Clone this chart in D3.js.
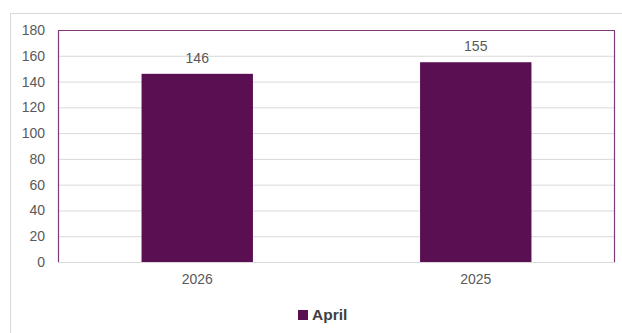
<!DOCTYPE html>
<html>
<head>
<meta charset="utf-8">
<script src="https://cdn.jsdelivr.net/npm/d3@7"></script>
<style>
  body { margin: 0; background: #fff; }
  text { font-family: "Liberation Sans", Arial, sans-serif; }
</style>
</head>
<body>
<div id="chart-area"></div>
<script>
const years = ['2026', '2025'];
const aprilValues = [146, 155];
const yTicks = [0, 20, 40, 60, 80, 100, 120, 140, 160, 180];
const seriesName = 'April';

const chartSize = { width: 622, height: 333 };
const margin = { left: 58, right: 7, top: 30, bottom: 71 };
const width = chartSize.width - margin.left - margin.right;
const height = chartSize.height - margin.top - margin.bottom;
const barColor = '#5a0f53';

const svg = d3.select('#chart-area').append('svg')
  .attr('width', chartSize.width)
  .attr('height', chartSize.height);

// outer chart frame
svg.append('rect')
  .attr('x', 10.5).attr('y', 13.5)
  .attr('width', 620).attr('height', 330)
  .attr('fill', 'none')
  .attr('stroke', '#d9d9d9');

const g = svg.append('g')
  .attr('transform', `translate(${margin.left},${margin.top})`);

const y = d3.scaleLinear().domain([0, 180]).range([height, 0]);
const x = d3.scaleBand().domain(years).range([0, width])
  .paddingInner(0.6).paddingOuter(0.3);

const yAxis = d3.axisLeft(y).tickValues(yTicks).tickSize(-width).tickPadding(13);
g.append('g').attr('class', 'y axis').call(yAxis)
  .call(s => s.select('.domain').remove())
  .call(s => s.selectAll('.tick line').attr('stroke', '#d9d9d9'))
  .call(s => s.selectAll('.tick text').attr('fill', '#595959').attr('font-size', 14));

const xAxis = d3.axisBottom(x).tickSize(0).tickPadding(12);
g.append('g').attr('class', 'x axis')
  .attr('transform', `translate(0,${height})`)
  .call(xAxis)
  .call(s => s.select('.domain').remove())
  .call(s => s.selectAll('.tick text').attr('fill', '#595959').attr('font-size', 14));

// plot area border
g.append('path')
  .attr('d', `M0.5,${height}V0.5H${width - 0.5}V${height}`)
  .attr('fill', 'none')
  .attr('stroke', '#7d3a76')
  .attr('stroke-width', 1.2);

const data = years.map((yr, i) => ({ yr, v: aprilValues[i] }));

g.selectAll('rect.bar').data(data).enter()
  .append('rect')
  .attr('class', 'bar')
  .attr('x', d => x(d.yr))
  .attr('y', d => y(d.v))
  .attr('width', x.bandwidth())
  .attr('height', d => y(0) - y(d.v))
  .attr('fill', barColor);

g.selectAll('text.label').data(data).enter()
  .append('text')
  .attr('class', 'label')
  .attr('x', d => x(d.yr) + x.bandwidth() / 2)
  .attr('y', d => y(d.v) - 11)
  .attr('text-anchor', 'middle')
  .attr('fill', '#595959')
  .attr('font-size', 14)
  .text(d => d.v);

// legend
const legend = svg.append('g').attr('transform', 'translate(298,310)');
legend.append('rect').attr('width', 10).attr('height', 10).attr('fill', barColor);
legend.append('text')
  .attr('x', 14).attr('y', 10)
  .attr('font-size', 15.5).attr('font-weight', 'bold')
  .attr('fill', '#404040')
  .text(seriesName);
</script>
</body>
</html>
